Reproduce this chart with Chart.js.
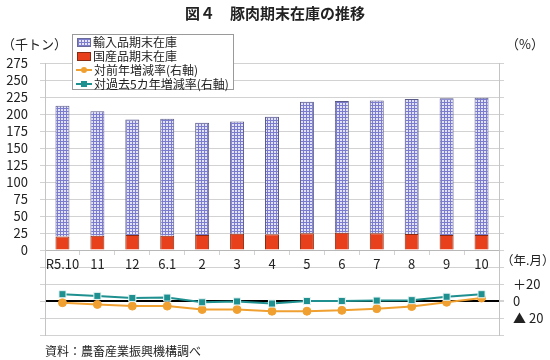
<!DOCTYPE html>
<html lang="ja">
<head>
<meta charset="utf-8">
<script src="https://cdn.jsdelivr.net/npm/chart.js@4/dist/chart.umd.min.js"></script>
<style>
  html,body{margin:0;padding:0;background:#fff;}
  body{width:550px;height:360px;position:relative;overflow:hidden;font-family:'Noto Sans CJK JP','Noto Sans',sans-serif;color:#222;}
  #c{position:absolute;left:0;top:0;}
  .t{position:absolute;white-space:nowrap;}
  #legend{position:absolute;left:72px;top:34px;width:162px;height:56px;border:1px solid #9a9a9a;background:#fff;font-size:12px;line-height:14px;padding-top:0px;box-sizing:border-box;}
  #legend .row{height:14px;display:flex;align-items:center;white-space:nowrap;}
  .sw{display:inline-block;width:14px;height:9px;margin:0 2px 0 4px;box-sizing:border-box;}
  .pat{background-color:#e4e4f6;background-image:linear-gradient(#7d7dd0 1px,transparent 1px),linear-gradient(90deg,#7d7dd0 1px,transparent 1px);background-size:3px 3px;border:1px solid #6a6a9a;}
  .red{background:#e8401c;border:1px solid #8a2a10;}
  svg{margin:0 2px 0 3px;}
</style>
</head>
<body>
<canvas id="c" width="550" height="360"></canvas>
<div class="t" style="left:0;top:4px;width:550px;text-align:center;font-size:15px;line-height:18px;font-weight:bold;">図４　豚肉期末在庫の推移</div>
<div class="t" style="left:2px;top:36px;font-size:13px;line-height:16px;">（千トン）</div>
<div class="t" style="left:506px;top:36px;font-size:13px;line-height:16px;">（%）</div>
<div class="t" style="left:501px;top:252px;font-size:12.5px;line-height:16px;">（年.月）</div>
<div class="t" style="left:45px;top:343px;font-size:12px;line-height:16px;">資料：農畜産業振興機構調べ</div>
<div id="legend">
  <div class="row"><span class="sw pat"></span>輸入品期末在庫</div>
  <div class="row"><span class="sw red"></span>国産品期末在庫</div>
  <div class="row"><svg width="16" height="10"><line x1="0" y1="5" x2="16" y2="5" stroke="#f0a030" stroke-width="2"/><circle cx="8" cy="5" r="3" fill="#f0a030"/></svg>対前年増減率(右軸)</div>
  <div class="row"><svg width="16" height="10"><line x1="0" y1="5" x2="16" y2="5" stroke="#1f9090" stroke-width="2"/><rect x="5" y="2" width="6" height="6" fill="#1f9090"/></svg>対過去5カ年増減率(右軸)</div>
</div>
<script>
// ---- data ----
const categories = ['R5.10','11','12','6.1','2','3','4','5','6','7','8','9','10'];
const domesticStock = [20, 21, 22, 21, 22, 24, 23, 24.5, 25.5, 24.5, 23.5, 22, 22];
const importStock = [192, 183, 170, 172, 165, 165, 173, 193.5, 193.5, 195.5, 198.5, 201, 202];
const yoyChange = [-2, -4, -6, -6, -10, -10, -12, -12, -11, -9, -6.5, -1.5, 3.5];
const fiveYearChange = [8, 6, 3.5, 4, -1.5, -0.5, -3, 0, 0, 0.5, 1, 5, 8];
const leftTickLabels = [0,25,50,75,100,125,150,175,200,225,250,275];
const rightTickLabels = {'20':'＋20','0':'0','-20':'▲ 20'};

const canvas = document.getElementById('c');
const ctx = canvas.getContext('2d');
function makePattern(){
  const c = document.createElement('canvas'); c.width = 3; c.height = 3;
  const g = c.getContext('2d');
  g.fillStyle = '#e2e2f5'; g.fillRect(0,0,3,3);
  g.fillStyle = '#7b7bcf'; g.fillRect(0,0,3,1); g.fillRect(0,0,1,3);
  return ctx.createPattern(c,'repeat');
}
Chart.defaults.font.family = "'Noto Sans CJK JP','Noto Sans',sans-serif";
Chart.defaults.color = '#222';
const gridGray = '#d2d2d2';

new Chart(ctx, {
  type: 'bar',
  data: {
    labels: categories,
    datasets: [
      {label:'国産品期末在庫', data: domesticStock, backgroundColor:'#e8401c', borderColor:'#8a2a10', borderWidth:1, stack:'s', yAxisID:'y', order:2, barPercentage:0.4, categoryPercentage:1},
      {label:'輸入品期末在庫', data: importStock, backgroundColor: makePattern(), borderColor:'#5a5a88', borderWidth:1, stack:'s', yAxisID:'y', order:2, barPercentage:0.4, categoryPercentage:1},
      {type:'line', label:'対前年増減率(右軸)', data: yoyChange, yAxisID:'y2', borderColor:'#f0a030', backgroundColor:'#f0a030', borderWidth:2, pointStyle:'circle', pointRadius:4, pointBackgroundColor:'#f0a030', pointBorderColor:'#f0a030', pointBorderWidth:1, order:1, tension:0},
      {type:'line', label:'対過去5カ年増減率(右軸)', data: fiveYearChange, yAxisID:'y2', borderColor:'#1f9090', backgroundColor:'#1f9090', borderWidth:2, pointStyle:'rect', pointRadius:5, pointBackgroundColor:'#1f9090', pointBorderColor:'#e8f4f4', pointBorderWidth:1, order:0, tension:0}
    ]
  },
  options: {
    responsive:false, animation:false, devicePixelRatio:1,
    layout:{padding:{top:63, bottom:25, left:0, right:0}},
    plugins:{legend:{display:false}, title:{display:false}, tooltip:{enabled:false}},
    scales:{
      x:{
        position:{y:0}, stacked:true, offset:true,
        grid:{display:true, drawOnChartArea:false, drawTicks:true, tickLength:4, offset:true, color:gridGray},
        border:{display:true, color:'#b8b8b8'},
        ticks:{padding:2, font:{size:13}, color:'#222', maxRotation:0, autoSkip:false}
      },
      y:{
        position:'left', stacked:true, min:-125, max:275,
        afterFit(s){ s.width = 45; },
        ticks:{stepSize:25, autoSkip:false, padding:12, font:{size:13}, color:'#222',
          callback:(v)=> leftTickLabels.includes(v) ? String(v) : ''},
        grid:{color:gridGray, tickLength:5, tickColor:gridGray},
        border:{display:true, color:'#c4c4c4'}
      },
      y2:{
        position:'right', stacked:false, min:-40, max:280,
        afterFit(s){ s.width = 51; },
        ticks:{stepSize:20, autoSkip:false, padding:9, font:{size:13}, color:'#222',
          callback:(v)=> rightTickLabels[String(v)] !== undefined ? rightTickLabels[String(v)] : ''},
        grid:{drawOnChartArea:true, tickLength:5, tickColor:gridGray,
          color:(c)=> (c.tick && c.tick.value === 0) ? '#000' : 'rgba(0,0,0,0)',
          lineWidth:(c)=> (c.tick && c.tick.value === 0) ? 2 : 1},
        border:{display:true, color:'#c4c4c4'}
      }
    }
  }
});
</script>
</body>
</html>
